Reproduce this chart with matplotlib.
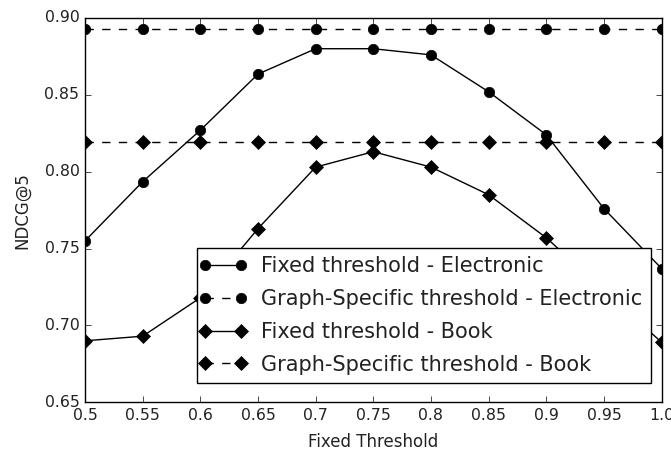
import matplotlib
matplotlib.use("Agg")
import matplotlib.pyplot as plt
from matplotlib.lines import Line2D
from matplotlib.legend_handler import HandlerLine2D

plt.style.use('classic')
plt.rcParams['font.family'] = ['DejaVu Sans']

thresholds = [0.5, 0.55, 0.6, 0.65, 0.7, 0.75, 0.8, 0.85, 0.9, 0.95, 1.0]
xtick_labels = ['0.5', '0.55', '0.6', '0.65', '0.7', '0.75', '0.8', '0.85', '0.9', '0.95', '1.0']
fixed_electronic = [0.755, 0.7935, 0.827, 0.8635, 0.880, 0.880, 0.876, 0.852, 0.824, 0.776, 0.737]
graph_electronic = [0.893] * 11
fixed_book = [0.690, 0.693, 0.718, 0.763, 0.803, 0.813, 0.803, 0.785, 0.757, 0.723, 0.689]
graph_book = [0.819] * 11

fig = plt.figure(figsize=(6.71, 4.54), dpi=100, facecolor='white')
ax = fig.add_axes([0.1267, 0.1139, 0.986 - 0.1267, 0.9604 - 0.1139])

ms = 7.5
ax.plot(thresholds, fixed_electronic, 'k-o', markersize=ms, label='Fixed threshold - Electronic')
ax.plot(thresholds, graph_electronic, 'k--o', markersize=ms, label='Graph-Specific threshold - Electronic')
ax.plot(thresholds, fixed_book, 'k-D', markersize=ms, label='Fixed threshold - Book')
ax.plot(thresholds, graph_book, 'k--D', markersize=ms, label='Graph-Specific threshold - Book')

ax.set_xlim(0.5, 1.0)
ax.set_ylim(0.65, 0.90)
ax.set_xticks(thresholds)
ax.set_xticklabels(xtick_labels)
ax.set_yticks([0.65, 0.70, 0.75, 0.80, 0.85, 0.90])
ax.set_yticklabels(['0.65', '0.70', '0.75', '0.80', '0.85', '0.90'])
ax.tick_params(labelsize=11.3, labelcolor='#222222')
ax.set_xlabel('Fixed Threshold', fontsize=12, color='#222222')
ax.set_ylabel('NDCG@5', fontsize=12, color='#222222')
ax.xaxis.set_label_coords(0.5, -0.081)
ax.yaxis.set_label_coords(-0.0936, 0.5)

leg = ax.legend(loc='lower right', bbox_to_anchor=(0.9815, 0.05), borderaxespad=0,
                fontsize=15, numpoints=2, frameon=True, fancybox=False,
                handlelength=1.7, labelspacing=0.62, handletextpad=1.0,
                handler_map={Line2D: HandlerLine2D(marker_pad=0)})
leg.get_frame().set_edgecolor('black')
for t in leg.get_texts():
    t.set_color('#222222')

fig.savefig('out.png', dpi=100, facecolor='white')
